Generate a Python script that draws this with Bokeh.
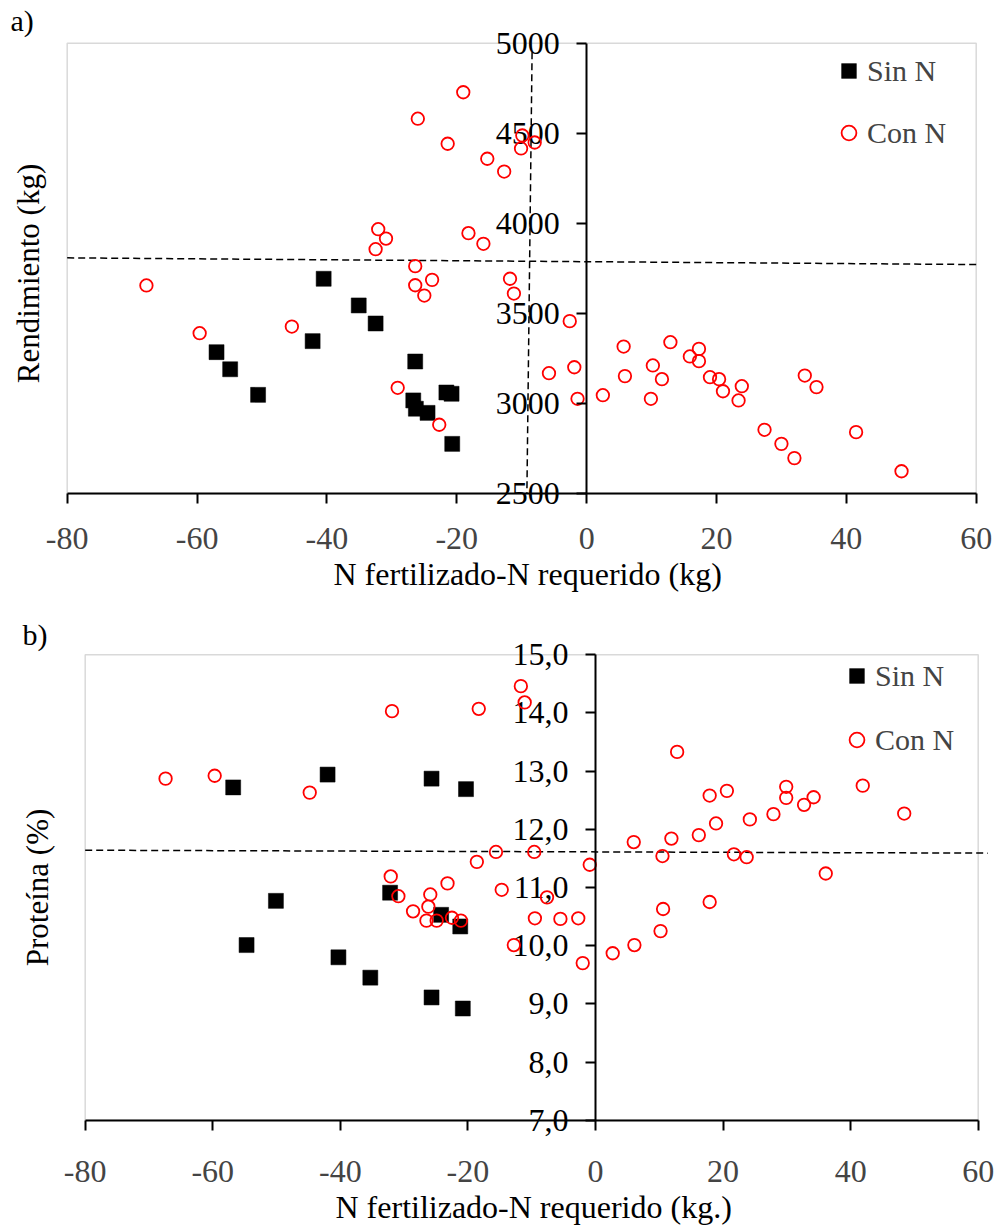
import math
from bokeh.plotting import figure
from bokeh.models import (FixedTicker, LinearAxis, Legend, LegendItem, Range1d, BoxAnnotation,
                          ColumnDataSource, Title)
from bokeh.core.properties import value
from bokeh.layouts import column
from bokeh.embed import file_html
from bokeh.resources import INLINE

FONT = "Liberation Serif"

# ---------------- data ----------------
x_ticks = [-80, -60, -40, -20, 0, 20, 40, 60]
x_tick_labels = ["-80", "-60", "-40", "-20", "0", "20", "40", "60"]

# panel a) Rendimiento
a_sin_x = [-57.0, -54.9, -50.6, -42.2, -40.5, -35.1, -32.5, -26.4, -26.7, -26.3, -24.5, -21.6, -20.8, -20.7]
a_sin_y = [3286, 3191, 3049, 3347, 3693, 3545, 3445, 3234, 3018, 2972, 2949, 3062, 3055, 2777]
a_con_x = [-67.8, -59.6, -45.4, -32.1, -30.9, -32.5, -26.4, -23.8, -26.4, -25.0, -29.1, -22.7, -26.0,
           -19.0, -21.4, -15.3, -12.7, -18.2, -15.9, -9.9, -10.1, -8.0, -11.8, -11.2, -2.6, -5.8,
           -1.9, -1.4, 2.5, 5.7, 5.9, 9.9, 10.2, 11.6, 12.9, 15.9, 17.3, 17.3, 19.0, 20.4, 21.0,
           23.4, 23.9, 27.4, 30.0, 32.0, 33.6, 35.4, 41.5, 48.5]
a_con_y = [3656, 3391, 3428, 3968, 3916, 3857, 3763, 3687, 3657, 3600, 3088, 2883, 4581,
           4728, 4442, 4359, 4288, 3946, 3887, 4488, 4416, 4449, 3693, 3611, 3458, 3169,
           3202, 3027, 3047, 3317, 3153, 3027, 3212, 3136, 3341, 3262, 3304, 3236, 3147, 3136, 3069,
           3018, 3097, 2855, 2777, 2698, 3156, 3092, 2842, 2625]
a_hline_x = [-80, 60]
a_hline_y = [3809, 3772]
a_vline_x = [-8.4, -9.2]
a_vline_y = [4950, 2500]
a_y_ticks = [2500, 3000, 3500, 4000, 4500, 5000]
a_y_labels = ["2500", "3000", "3500", "4000", "4500", "5000"]

# panel b) Proteina
b_sin_x = [-56.8, -54.7, -50.1, -42.0, -40.3, -35.3, -32.2, -25.7, -25.7, -24.2, -21.2, -20.8, -20.3]
b_sin_y = [12.72, 10.01, 10.77, 12.94, 9.80, 9.45, 10.91, 12.87, 9.11, 10.53, 10.33, 8.92, 12.69]
b_con_x = [-67.4, -59.7, -44.8, -31.9, -18.3, -11.7, -11.1, -32.1, -30.9, -28.6, -26.5, -26.2, -25.9,
           -24.9, -23.2, -22.5, -21.1, -18.6, -15.6, -14.7, -9.6, -12.8, -9.5, -7.6, -5.5, -2.7,
           -2.0, -0.9, 2.7, 6.0, 10.5, 11.9, 12.8, 16.2, 17.9, 18.9, 20.6, 21.7, 23.7, 24.2, 27.9,
           29.9, 29.9, 32.7, 34.2, 36.1, 41.9, 48.4, 10.6, 17.9, 6.1, 10.2]
b_con_y = [12.87, 12.92, 12.63, 14.03, 14.07, 14.46, 14.18, 11.19, 10.85, 10.59, 10.43, 10.67, 10.88,
           10.43, 11.07, 10.48, 10.43, 11.44, 11.61, 10.96, 11.61, 10.01, 10.47, 10.83, 10.46, 10.47,
           9.70, 11.39, 9.87, 11.78, 11.54, 11.84, 13.33, 11.90, 12.58, 12.10, 12.66, 11.57, 11.52, 12.17, 12.26,
           12.73, 12.54, 12.42, 12.55, 11.24, 12.75, 12.27, 10.63, 10.75, 10.01, 10.25]
b_hline_x = [-80, 61.5]
b_hline_y = [11.64, 11.59]
b_y_ticks = [7, 8, 9, 10, 11, 12, 13, 14, 15]
b_y_labels = ["7,0", "8,0", "9,0", "10,0", "11,0", "12,0", "13,0", "14,0", "15,0"]

X0, X1 = -80, 60


def make_panel(sin_x, sin_y, con_x, con_y, hl_x, hl_y, vl_x, vl_y, y0, y1,
               y_ticks, y_labels, x_title, y_title, tag, g):
    W, H = 998, g["H"]
    bl, br, bt, bb, fb = g["box_l"], g["box_r"], g["box_t"], g["box_b"], g["frame_b"]
    # frame covers x: [0, W], y: [0, fb]; box (axes rectangle) at bl..br, bt..bb
    kx = (X1 - X0) / (br - bl)
    ky = (y1 - y0) / (bb - bt)
    xr = Range1d(X0 - bl * kx, X1 + (W - br) * kx)
    yr = Range1d(y0 - (fb - bb) * ky, y1 + bt * ky)

    p = figure(width=W, height=H, x_range=xr, y_range=yr, output_backend="svg",
               toolbar_location=None, y_axis_location=None,
               min_border_left=0, min_border_right=0, min_border_top=0,
               min_border_bottom=int(H - fb))
    p.grid.visible = False
    p.outline_line_color = None
    p.background_fill_color = "white"
    p.border_fill_color = "white"

    # gray plot rectangle
    p.add_layout(BoxAnnotation(left=X0, right=X1, bottom=y0, top=y1, fill_alpha=0,
                               fill_color=None, line_color="#808080", line_width=1.5,
                               level="underlay"))

    # bottom axis: tick labels only
    xa = p.xaxis[0]
    xa.ticker = FixedTicker(ticks=x_ticks)
    xa.major_label_overrides = {t: l for t, l in zip(x_ticks, x_tick_labels)}
    xa.axis_line_color = None
    xa.major_tick_out = 0
    xa.major_tick_in = 0
    xa.minor_tick_out = 0
    xa.minor_tick_in = 0
    xa.major_label_text_font = FONT
    xa.major_label_text_font_size = "32px"
    xa.major_label_standoff = g["label_so"]

    # x axis title
    p.add_layout(Title(text=x_title, align="left", offset=g["xt_x"], text_font=FONT,
                       text_font_size="32px", text_font_style="normal", text_color="black",
                       standoff=g["xt_so"], vertical_align="middle"), "below")

    # x axis line + ticks at y0
    xf = LinearAxis(fixed_location=y0, ticker=FixedTicker(ticks=[], minor_ticks=x_ticks),
                    bounds=(X0, X1), major_tick_in=0, major_tick_out=0,
                    minor_tick_in=10, minor_tick_out=0, minor_tick_line_width=2,
                    minor_tick_line_color="black", axis_line_width=2)
    p.add_layout(xf, "above")

    # y axis line + ticks at x = 0
    yf = LinearAxis(fixed_location=0, ticker=FixedTicker(ticks=[], minor_ticks=y_ticks),
                    bounds=(y0, y1), major_tick_in=0, major_tick_out=0,
                    minor_tick_in=10, minor_tick_out=0, minor_tick_line_width=2,
                    minor_tick_line_color="black", axis_line_width=2)
    p.add_layout(yf, "right")

    # y tick labels
    ysrc = ColumnDataSource(dict(x=[0] * len(y_ticks), y=y_ticks, t=y_labels))
    p.text(x="x", y="y", text="t", source=ysrc, x_offset=-27, text_align="right",
           text_baseline="middle", text_font=value(FONT), text_font_size="32px",
           text_color="black")

    p.line(hl_x, hl_y, line_color="black", line_width=1.5, line_dash="7 4")
    if vl_x is not None:
        p.line(vl_x, vl_y, line_color="black", line_width=1.5, line_dash="7 4")

    r_sin = p.scatter(sin_x, sin_y, marker="square", size=15, fill_color="black", line_color="black",
                      line_width=0.5)
    r_con = p.scatter(con_x, con_y, marker="circle", size=12.5, fill_color=None, line_color="#ff0000",
                      line_width=1.8)

    leg = Legend(items=[LegendItem(label="Sin N", renderers=[r_sin]),
                        LegendItem(label="Con N", renderers=[r_con])],
                 location=g["leg_loc"], glyph_width=37, glyph_height=37, label_height=37,
                 spacing=g["leg_sp"], padding=0, margin=0, border_line_color=None,
                 background_fill_alpha=0, label_text_font=FONT, label_text_font_size="30px",
                 label_standoff=0)
    p.add_layout(leg)

    # y title and panel tag
    p.text(x=[X0], y=[(y0 + y1) / 2], text=[y_title], x_offset=g["yt_off"][0],
           y_offset=g["yt_off"][1], angle=math.pi / 2,
           text_align="center", text_baseline="middle", text_font=value(FONT),
           text_font_size="31px", text_color="black")
    p.text(x=[X0], y=[y1], text=[tag], x_offset=g["tag_off"][0], y_offset=g["tag_off"][1],
           text_align="left", text_baseline="middle", text_font=value(FONT),
           text_font_size="30px", text_color="black")
    return p


ga = dict(H=603, box_l=66.7, box_r=975.7, box_t=42.7, box_b=493.3, frame_b=512,
          label_so=15, xt_x=333, xt_so=6, leg_loc=(830, 361), leg_sp=25, yt_off=(-38.7, 5),
          tag_off=(-56.7, -22.7))
gb = dict(H=625, box_l=84.7, box_r=977.7, box_t=51.3, box_b=517.7, frame_b=536,
          label_so=22, xt_x=335, xt_so=6, leg_loc=(838, 380), leg_sp=27, yt_off=(-47.2, 0),
          tag_off=(-62.7, -20.3))

pa = make_panel(a_sin_x, a_sin_y, a_con_x, a_con_y, a_hline_x, a_hline_y, a_vline_x, a_vline_y,
                2500, 5000, a_y_ticks, a_y_labels, "N fertilizado-N requerido (kg)",
                "Rendimiento (kg)", "a)", ga)
pb = make_panel(b_sin_x, b_sin_y, b_con_x, b_con_y, b_hline_x, b_hline_y, None, None,
                7, 15, b_y_ticks, b_y_labels, "N fertilizado-N requerido (kg.)",
                "Proteína (%)", "b)", gb)

layout = column(pa, pb, spacing=0)
open("out.html", "w").write(file_html(layout, INLINE))
